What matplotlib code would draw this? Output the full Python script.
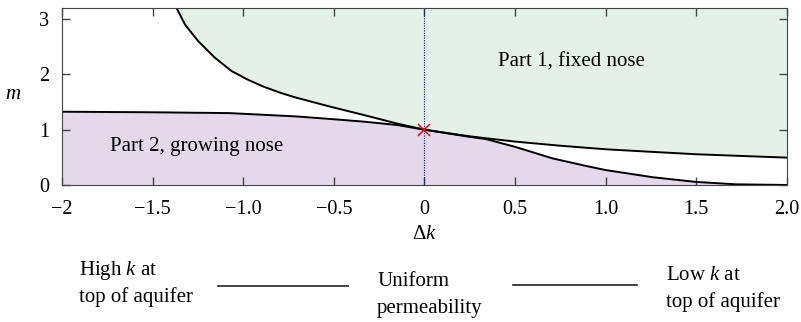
import matplotlib
matplotlib.use("Agg")
import matplotlib.pyplot as plt
from matplotlib.lines import Line2D

plt.rcParams['font.family'] = 'serif'
plt.rcParams['font.serif'] = ['Liberation Serif', 'DejaVu Serif']
plt.rcParams['mathtext.fontset'] = 'custom'
plt.rcParams['mathtext.rm'] = 'Liberation Serif'
plt.rcParams['mathtext.it'] = 'Liberation Serif:italic'

# boundary of part 1 (fixed nose)
dk_upper = [-1.371, -1.321, -1.248, -1.156, -1.064, -0.972, -0.889, -0.788, -0.708,
            -0.524, -0.340, -0.156, 0.0, 0.25, 0.34, 0.5, 0.75, 1.0, 1.25, 1.5, 1.75, 2.0]
m_upper = [3.22, 2.90, 2.60, 2.30, 2.06, 1.90, 1.78, 1.66, 1.58,
           1.42, 1.27, 1.115, 1.0, 0.88, 0.845, 0.785, 0.71, 0.646, 0.60, 0.556, 0.525, 0.495]

# boundary of part 2 (growing nose)
dk_lower = [-2.0, -1.5, -1.076, -0.708, -0.524, -0.340, -0.156, 0.0, 0.25, 0.34, 0.5,
            0.708, 0.892, 1.0, 1.26, 1.5, 1.72, 2.0]
m_lower = [1.325, 1.315, 1.30, 1.24, 1.195, 1.147, 1.087, 1.0, 0.87, 0.83, 0.69,
           0.48, 0.344, 0.27, 0.14, 0.055, 0.012, 0.0]

x_ticks = [-2, -1.5, -1.0, -0.5, 0, 0.5, 1.0, 1.5, 2.0]
x_labels = ['\u22122', '\u22121.5', '\u22121.0', '\u22120.5', '0', '0.5', '1.0', '1.5', '2.0']
y_ticks = [0, 1, 2, 3]

fig = plt.figure(figsize=(8.01, 3.22), dpi=100)
ax = fig.add_axes([0.0774, 0.4255, 0.905, 0.5495])

ax.fill_between(dk_upper, m_upper, 3.3, color='#e3f1e8', lw=0)
ax.fill_between(dk_lower, 0, m_lower, color='#e3d9ea', lw=0)
ax.plot(dk_upper, m_upper, color='black', lw=1.4)
ax.plot(dk_lower, m_lower, color='black', lw=1.4)
ax.axvline(0, color='blue', lw=0.8, ls=(0, (1, 1.2)))
ax.plot([0], [1], marker='x', color='red', ms=9, mew=1.1)

ax.text(0.809, 2.23, 'Part 1, fixed nose', fontsize=15, ha='center', va='center')
ax.text(-1.255, 0.69, 'Part 2, growing nose', fontsize=15, ha='center', va='center')

ax.set_xlim(-2, 2)
ax.set_ylim(0, 3.2)
ax.set_xticks(x_ticks)
ax.set_xticklabels(x_labels)
ax.set_yticks(y_ticks)
ax.tick_params(direction='in', top=True, right=True, length=6, width=1,
               color='#444444', labelsize=14.5)
ax.tick_params(axis='x', pad=11)
ax.tick_params(axis='y', pad=9)
for s in ax.spines.values():
    s.set_color('#444444')
ax.set_xlabel(r'$\Delta k$', fontsize=15, labelpad=4)
ax.set_ylabel(r'$m$', fontsize=15, rotation=0)
ax.yaxis.set_label_coords(-0.068, 0.46)

# explanation beneath the axis
H = 322.0
W = 801.0
fig.text(79 / W, 1 - 271 / H, 'High $k$ at', fontsize=15, va='center')
fig.text(79 / W, 1 - 297 / H, 'top of aquifer', fontsize=15, va='center')
fig.text(377 / W, 1 - 282 / H, 'Uniform', fontsize=15, va='center')
fig.text(377 / W, 1 - 308 / H, 'permeability', fontsize=15, va='center')
fig.text(666 / W, 1 - 276 / H, 'Low $k$ at', fontsize=15, va='center')
fig.text(666 / W, 1 - 302 / H, 'top of aquifer', fontsize=15, va='center')
fig.add_artist(Line2D([218 / W, 348 / W], [1 - 286 / H, 1 - 286 / H], color='#222222', lw=1.2))
fig.add_artist(Line2D([513 / W, 637 / W], [1 - 285 / H, 1 - 285 / H], color='#222222', lw=1.2))

fig.savefig('out.png', dpi=100)
